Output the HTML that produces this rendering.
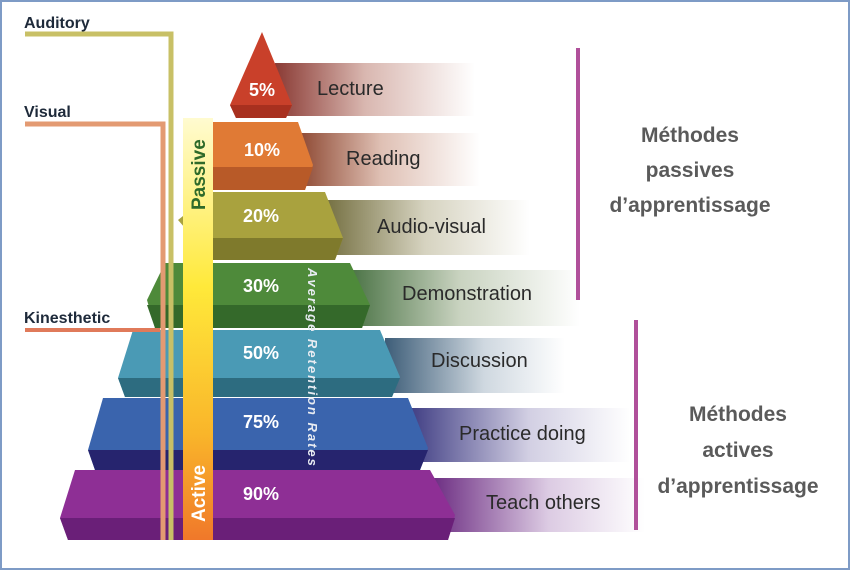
<!DOCTYPE html>
<html><head><meta charset="utf-8"><style>
html,body{margin:0;padding:0;background:#fff}
svg{display:block}
text{font-family:"Liberation Sans",sans-serif}
</style></head><body>
<svg width="850" height="570" viewBox="0 0 850 570" xmlns="http://www.w3.org/2000/svg">
<defs>
<linearGradient id="b1" x1="0" x2="1"><stop offset="0" stop-color="#8a3a34"/><stop offset=".45" stop-color="#d9b7b0"/><stop offset="1" stop-color="#fff"/></linearGradient>
<linearGradient id="b2" x1="0" x2="1"><stop offset="0" stop-color="#8f4a34"/><stop offset=".45" stop-color="#dfc0b4"/><stop offset="1" stop-color="#fff"/></linearGradient>
<linearGradient id="b3" x1="0" x2="1"><stop offset="0" stop-color="#6f6a3a"/><stop offset=".5" stop-color="#d6d3c0"/><stop offset="1" stop-color="#fff"/></linearGradient>
<linearGradient id="b4" x1="0" x2="1"><stop offset="0" stop-color="#3f6a3a"/><stop offset=".5" stop-color="#c9d3c0"/><stop offset="1" stop-color="#fff"/></linearGradient>
<linearGradient id="b5" x1="0" x2="1"><stop offset="0" stop-color="#3d5d78"/><stop offset=".55" stop-color="#cfd8e0"/><stop offset="1" stop-color="#fff"/></linearGradient>
<linearGradient id="b6" x1="0" x2="1"><stop offset="0" stop-color="#3a3880"/><stop offset=".55" stop-color="#d2cfe3"/><stop offset="1" stop-color="#fff"/></linearGradient>
<linearGradient id="b7" x1="0" x2="1"><stop offset="0" stop-color="#6a2a80"/><stop offset=".55" stop-color="#dccbe3"/><stop offset="1" stop-color="#fff"/></linearGradient>
<linearGradient id="yb" x1="0" x2="0" y1="0" y2="1"><stop offset="0" stop-color="#fffbd0"/><stop offset=".4" stop-color="#ffe93a"/><stop offset=".75" stop-color="#f9b52a"/><stop offset="1" stop-color="#f0782a"/></linearGradient>
</defs>
<rect x="1" y="1" width="848" height="568" fill="#fff" stroke="#7e9bc6" stroke-width="2"/>
<!-- bands -->
<rect x="275" y="63" width="200" height="53" fill="url(#b1)"/>
<rect x="300" y="133" width="180" height="53" fill="url(#b2)"/>
<rect x="320" y="200" width="210" height="55" fill="url(#b3)"/>
<rect x="340" y="270" width="240" height="56" fill="url(#b4)"/>
<rect x="385" y="338" width="180" height="55" fill="url(#b5)"/>
<rect x="405" y="408" width="225" height="54" fill="url(#b6)"/>
<rect x="430" y="478" width="215" height="54" fill="url(#b7)"/>
<!-- pyramid -->
<polygon points="262,32 230,105 236,118 286,118 292,105" fill="#c9402a"/>
<polygon points="230,105 292,105 286,118 236,118" fill="#a8301f"/>
<polygon points="213,122 298,122 313,165 305,190 213,190" fill="#e07a35"/>
<polygon points="213,167 313,167 305,190 213,190" fill="#b85a28"/>
<polygon points="178,220 213,192 325,192 343,238 335,260 213,260" fill="#a9a23e"/>
<polygon points="185,238 343,238 335,260 190,260" fill="#7f7a2c"/>
<polygon points="147,300 165,263 350,263 370,305 362,328 155,328" fill="#4e8a3a"/>
<polygon points="147,305 370,305 362,328 155,328" fill="#34692a"/>
<polygon points="118,378 133,330 380,330 400,377 392,397 125,397" fill="#4a9ab5"/>
<polygon points="118,378 400,378 392,397 125,397" fill="#2d6c80"/>
<polygon points="88,450 103,398 408,398 428,448 420,470 95,470" fill="#3a64ad"/>
<polygon points="88,450 428,450 420,470 95,470" fill="#26246e"/>
<polygon points="60,518 75,470 430,470 455,515 448,540 68,540" fill="#8e2f95"/>
<polygon points="60,518 455,518 448,540 68,540" fill="#6a1f78"/>
<!-- lines -->
<polyline points="25,34 171,34 171,540" fill="none" stroke="#c8c066" stroke-width="5"/>
<polyline points="25,124 163,124 163,540" fill="none" stroke="#e39a72" stroke-width="5"/>
<polyline points="25,330 160,330" fill="none" stroke="#e07a5a" stroke-width="4"/>
<rect x="183" y="118" width="30" height="422" fill="url(#yb)"/>
<g font-weight="bold" font-size="16">
<text x="24" y="28" fill="#1e2a3a">Auditory</text>
<text x="24" y="117" fill="#1e2a3a">Visual</text>
<text x="24" y="323" fill="#1e2a3a">Kinesthetic</text>
</g>
<text transform="translate(205,210) rotate(-90)" font-size="19" font-weight="bold" fill="#2e6a2a">Passive</text>
<text transform="translate(205,522) rotate(-90)" font-size="19" font-weight="bold" fill="#fff">Active</text>
<text transform="translate(308,268) rotate(90)" font-size="13" font-style="italic" font-weight="bold" fill="#e8ecf2" letter-spacing="2">Average Retention Rates</text>
<g font-size="18" font-weight="bold" fill="#fff" text-anchor="middle">
<text x="262" y="96">5%</text>
<text x="262" y="156">10%</text>
<text x="261" y="222">20%</text>
<text x="261" y="292">30%</text>
<text x="261" y="359">50%</text>
<text x="261" y="428">75%</text>
<text x="261" y="500">90%</text>
</g>
<g font-size="20" fill="#2a2a2a">
<text x="317" y="95">Lecture</text>
<text x="346" y="165">Reading</text>
<text x="377" y="233">Audio-visual</text>
<text x="402" y="300">Demonstration</text>
<text x="431" y="367">Discussion</text>
<text x="459" y="440">Practice doing</text>
<text x="486" y="509">Teach others</text>
</g>
<rect x="576" y="48" width="4" height="252" fill="#b0509a"/>
<rect x="634" y="320" width="4" height="210" fill="#b0509a"/>
<g font-size="21" font-weight="bold" fill="#5a5a5a" text-anchor="middle">
<text x="690" y="142">Méthodes</text>
<text x="690" y="177">passives</text>
<text x="690" y="212">d’apprentissage</text>
<text x="738" y="421">Méthodes</text>
<text x="738" y="457">actives</text>
<text x="738" y="493">d’apprentissage</text>
</g>
</svg>
</body></html>
